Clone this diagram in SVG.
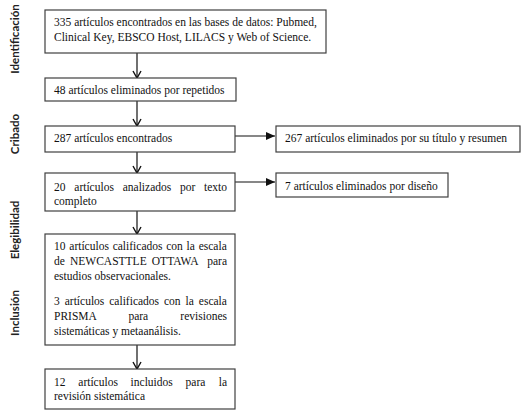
<svg xmlns="http://www.w3.org/2000/svg" width="528" height="418" viewBox="0 0 528 418">
<style>
.box{fill:#fff;stroke:#404040;stroke-width:1.2}
.t{font-family:"Liberation Serif","Times New Roman",serif;font-size:11.5px;fill:#111}
.lab{font-family:Lato,"Open Sans",sans-serif;font-weight:bold;font-size:11.5px;fill:#222}
.c{stroke:#111;stroke-width:1.2;fill:none}
</style>
<defs>
<marker id="open" markerWidth="10" markerHeight="10" refX="8" refY="5" orient="auto" markerUnits="userSpaceOnUse">
<path d="M1,1 L8,5 L1,9" fill="none" stroke="#111" stroke-width="1.4"/>
</marker>
<marker id="fill" markerWidth="10" markerHeight="8" refX="9" refY="4" orient="auto" markerUnits="userSpaceOnUse">
<path d="M0,0 L9,4 L0,8 Z" fill="#111"/>
</marker>
</defs>
<rect width="528" height="418" fill="#fff"/>
<g id="labels">
<text class="lab" transform="translate(19,39) rotate(-90)" text-anchor="middle">Identificación</text>
<text class="lab" transform="translate(19,134) rotate(-90)" text-anchor="middle">Cribado</text>
<text class="lab" transform="translate(19,230) rotate(-90)" text-anchor="middle">Elegibilidad</text>
<text class="lab" transform="translate(19,313) rotate(-90)" text-anchor="middle">Inclusión</text>
</g>
<g id="connectors">
<line class="c" x1="137" y1="53" x2="137" y2="78" marker-end="url(#open)"/>
<line class="c" x1="137" y1="101" x2="137" y2="126" marker-end="url(#open)"/>
<line class="c" x1="137" y1="152" x2="137" y2="173" marker-end="url(#open)"/>
<line class="c" x1="137" y1="211" x2="137" y2="234" marker-end="url(#open)"/>
<line class="c" x1="137" y1="345" x2="137" y2="369" marker-end="url(#open)"/>
<line class="c" x1="235" y1="136" x2="275" y2="136" marker-end="url(#fill)"/>
<line class="c" x1="235" y1="182" x2="275" y2="182" marker-end="url(#fill)"/>
</g>
<g id="n1">
<rect class="box" x="45" y="10" width="281" height="43"/>
<text class="t" x="54" y="26">335 artículos encontrados en las bases de datos: Pubmed,</text>
<text class="t" x="54" y="41">Clinical Key, EBSCO Host, LILACS y Web of Science.</text>
</g>
<g id="n2">
<rect class="box" x="45" y="78" width="191" height="23"/>
<text class="t" x="54" y="94">48 artículos eliminados por repetidos</text>
</g>
<g id="n3">
<rect class="box" x="45" y="126" width="190" height="26"/>
<text class="t" x="54" y="142">287 artículos encontrados</text>
</g>
<g id="n4">
<rect class="box" x="276" y="126" width="244" height="26"/>
<text class="t" x="285" y="142">267 artículos eliminados por su título y resumen</text>
</g>
<g id="n5">
<rect class="box" x="45" y="173" width="190" height="38"/>
<text class="t" y="191"><tspan x="54">20</tspan><tspan x="74.3">artículos</tspan><tspan x="122.7">analizados</tspan><tspan x="180">por</tspan><tspan x="227" text-anchor="end">texto</tspan></text>
<text class="t" x="54" y="205">completo</text>
</g>
<g id="n6">
<rect class="box" x="276" y="173" width="172" height="24"/>
<text class="t" x="285" y="190">7 artículos eliminados por diseño</text>
</g>
<g id="n7">
<rect class="box" x="45" y="234" width="190" height="111"/>
<text class="t" x="54" y="250" word-spacing="0.9">10 artículos calificados con la escala</text>
<text class="t" y="265"><tspan x="54">de</tspan><tspan x="70">NEWCASTTLE</tspan><tspan x="151.8">OTTAWA</tspan><tspan x="227" text-anchor="end">para</tspan></text>
<text class="t" x="54" y="280">estudios observacionales.</text>
<text class="t" x="54" y="305" word-spacing="2.08">3 artículos calificados con la escala</text>
<text class="t" y="320"><tspan x="54">PRISMA</tspan><tspan x="128.4">para</tspan><tspan x="227" text-anchor="end">revisiones</tspan></text>
<text class="t" x="54" y="335">sistemáticas y metaanálisis.</text>
</g>
<g id="n8">
<rect class="box" x="45" y="369" width="190" height="40"/>
<text class="t" y="386"><tspan x="54">12</tspan><tspan x="78.3">artículos</tspan><tspan x="130.6">incluidos</tspan><tspan x="185.6">para</tspan><tspan x="227" text-anchor="end">la</tspan></text>
<text class="t" x="54" y="400">revisión sistemática</text>
</g>
</svg>
